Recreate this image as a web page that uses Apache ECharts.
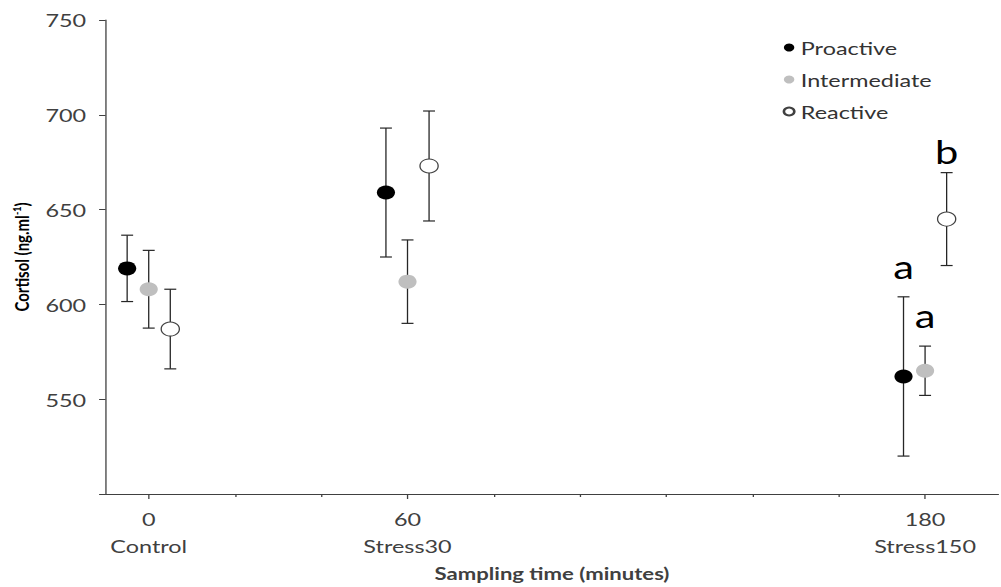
<!DOCTYPE html>
<html>
<head>
<meta charset="utf-8">
<script src="https://cdn.jsdelivr.net/npm/echarts@6/dist/echarts.min.js"></script>
<style>
  html, body { margin: 0; padding: 0; background: #fff; overflow: hidden; width: 1001px; height: 587px; }
  #wrap { position: absolute; left: 0; top: 0; width: 1001px; height: 587px; overflow: hidden; }
  #main { width: 770px; height: 587px; transform: scaleX(1.3); transform-origin: 0 0; }
</style>
</head>
<body>
<div id="wrap"><div id="main"></div></div>
<script>
// ---- data ----
const times = [0, 60, 180];
const groupNames = ['Control', 'Stress30', 'Stress150'];
const seriesNames = ['Proactive', 'Intermediate', 'Reactive'];
const proactiveMean = [619, 659, 562];
const proactiveSE = [17.5, 34, 42];
const intermediateMean = [608, 612, 565];
const intermediateSE = [20.5, 22, 13];
const reactiveMean = [587, 673, 645];
const reactiveSE = [21, 29, 24.5];
const proactiveLetters = ['', '', 'a'];
const intermediateLetters = ['', '', 'a'];
const reactiveLetters = ['', '', 'b'];
const xMajorTicks = [0, 60, 180];
const xMinorTicks = [20, 40, 80, 100, 120, 140, 160];

// ---- layout / style ----
const FONT = 'Lato, "Open Sans", sans-serif';
const dodge = [-5, 0, 5];
const colors = ['#000000', '#bfbfbf', '#ffffff'];
const borders = ['#000000', '#bfbfbf', '#404040'];
const letterGap = [14, 15, 5];
const means = [proactiveMean, intermediateMean, reactiveMean];
const ses = [proactiveSE, intermediateSE, reactiveSE];
const letters = [proactiveLetters, intermediateLetters, reactiveLetters];

const chart = echarts.init(document.getElementById('main'), null, { renderer: 'svg' });

function errRender(params, api) {
  const x = api.value(0), lo = api.value(1), hi = api.value(2);
  const top = api.coord([x, hi]);
  const bot = api.coord([x, lo]);
  const hw = 4.6;
  const st = { stroke: '#262626', lineWidth: 1 };
  const stc = { stroke: '#262626', lineWidth: 1.2 };
  return {
    type: 'group',
    children: [
      { type: 'line', shape: { x1: top[0], y1: top[1], x2: bot[0], y2: bot[1] }, style: st },
      { type: 'line', shape: { x1: top[0] - hw, y1: top[1], x2: top[0] + hw, y2: top[1] }, style: stc },
      { type: 'line', shape: { x1: bot[0] - hw, y1: bot[1], x2: bot[0] + hw, y2: bot[1] }, style: stc }
    ]
  };
}

const series = [];
seriesNames.forEach((name, si) => {
  series.push({
    name: name + ' err',
    type: 'custom',
    renderItem: errRender,
    encode: { x: 0, y: [1, 2] },
    z: 2,
    silent: true,
    data: times.map((t, i) => [t + dodge[si], means[si][i] - ses[si][i], means[si][i] + ses[si][i]])
  });
});
seriesNames.forEach((name, si) => {
  series.push({
    name: name,
    type: 'scatter',
    symbol: 'circle',
    symbolSize: 14,
    z: 3,
    itemStyle: { color: colors[si], borderColor: borders[si], borderWidth: si === 2 ? 1 : 0, opacity: 1 },
    data: times.map((t, i) => [t + dodge[si], means[si][i]])
  });
});
seriesNames.forEach((name, si) => {
  series.push({
    name: name + ' letters',
    type: 'custom',
    z: 4,
    silent: true,
    encode: { x: 0, y: 1 },
    renderItem: function (params, api) {
      const txt = letters[si][params.dataIndex];
      if (!txt) return null;
      const p = api.coord([api.value(0), api.value(1)]);
      return {
        type: 'text',
        style: {
          x: p[0], y: p[1] - letterGap[si], text: txt,
          fill: '#000', font: '32px ' + FONT,
          align: 'center', verticalAlign: 'bottom'
        }
      };
    },
    data: times.map((t, i) => [t + dodge[si], means[si][i] + ses[si][i]])
  });
});

const option = {
  backgroundColor: '#fff',
  animation: false,
  grid: { left: 78, right: 2, top: 20, bottom: 91, containLabel: false },
  legend: {
    orient: 'vertical',
    left: 597,
    top: 32,
    itemWidth: 8,
    itemHeight: 8,
    itemGap: 11,
    icon: 'circle',
    textStyle: { fontSize: 18, fontFamily: FONT, color: '#333', lineHeight: 21 },
    data: seriesNames
  },
  xAxis: [
    {
      type: 'value', min: -10, max: 197, position: 'bottom',
      splitLine: { show: false },
      axisLine: { show: true, onZero: false, lineStyle: { color: '#404040', width: 1 } },
      axisTick: { show: true, length: 5, customValues: xMajorTicks, lineStyle: { color: '#404040' } },
      axisLabel: {
        show: true, customValues: xMajorTicks, margin: 11,
        fontSize: 18, fontFamily: FONT, color: '#404040', lineHeight: 27,
        formatter: function (v) {
          const i = times.indexOf(v);
          return v + '\n' + (i >= 0 ? groupNames[i] : '');
        }
      },
      name: 'Sampling time (minutes)',
      nameLocation: 'middle',
      nameGap: 71,
      nameTextStyle: { fontSize: 17, fontWeight: 'bold', fontFamily: FONT, color: '#404040' }
    },
    {
      type: 'value', min: -10, max: 197, position: 'bottom',
      splitLine: { show: false },
      axisLine: { show: false, onZero: false },
      axisTick: { show: true, length: 3, customValues: xMinorTicks, lineStyle: { color: '#404040' } },
      axisLabel: { show: false }
    }
  ],
  yAxis: {
    type: 'value', min: 500, max: 750, interval: 50,
    splitLine: { show: false },
    axisLine: { show: true, onZero: false, lineStyle: { color: '#404040', width: 1 } },
    axisTick: { show: true, length: 5, lineStyle: { color: '#404040' } },
    axisLabel: {
      margin: 15, fontSize: 18, fontFamily: FONT, color: '#404040',
      formatter: function (v) { return v === 500 ? '' : String(v); }
    },
    name: '{b|Cortisol (ng.ml}{s|-1}{b|)}',
    nameLocation: 'middle',
    nameRotate: 90,
    nameGap: 51,
    nameTextStyle: {
      rich: {
        b: { fontSize: 15, fontWeight: 'bold', fontFamily: FONT, color: '#000' },
        s: { fontSize: 9, fontWeight: 'bold', fontFamily: FONT, color: '#000', padding: [0, 0, 8, 0] }
      }
    }
  },
  series: series
};
chart.setOption(option);
</script>
</body>
</html>
